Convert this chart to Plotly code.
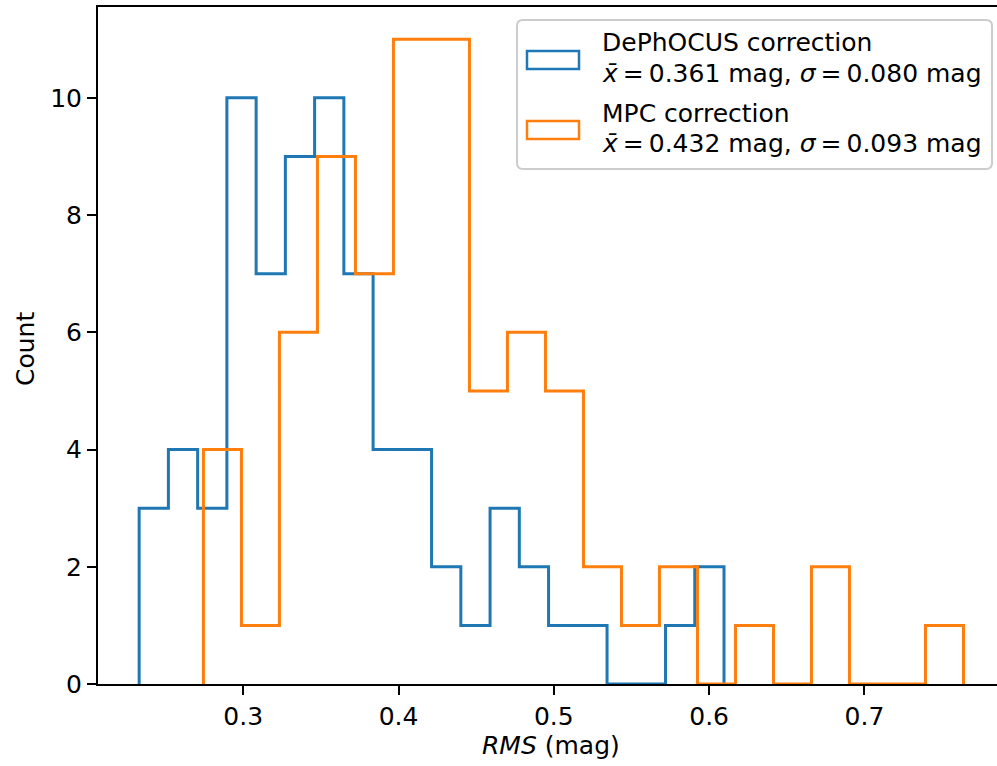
import plotly.graph_objects as go

# ---- data ----
dephocus_counts = [3, 4, 3, 10, 7, 9, 10, 7, 4, 4, 2, 1, 3, 2, 1, 1, 0, 0, 1, 2]
dephocus_start = 0.2330
dephocus_width = 0.01883

mpc_counts = [4, 1, 6, 9, 7, 11, 11, 5, 6, 5, 2, 1, 2, 0, 1, 0, 2, 0, 0, 1]
mpc_start = 0.2744
mpc_width = 0.02447

series_names = ["DePhOCUS correction", "MPC correction"]
TS = "\u2009"
series_stats = [f"<i>x\u0304</i>{TS}={TS}0.361 mag, <i>\u03c3</i>{TS}={TS}0.080 mag",
                f"<i>x\u0304</i>{TS}={TS}0.432 mag, <i>\u03c3</i>{TS}={TS}0.093 mag"]
colors = ["#1f77b4", "#ff7f0e"]

x_ticks = [0.3, 0.4, 0.5, 0.6, 0.7]
y_ticks = [0, 2, 4, 6, 8, 10]

FONT = "DejaVu Sans"
FS = 25

# layout geometry (pixels)
W, H = 997, 766
L, R, T, B = 98, 0, 7, 82
PW, PH = W - L - R, H - T - B


def px_x(px):
    return (px - L) / PW


def px_y(py):
    return (H - B - py) / PH


def step_xy(start, width, counts):
    n = len(counts)
    edges = [start + i * width for i in range(n + 1)]
    xs = [edges[0]] + edges[:n] + [edges[n]]
    ys = [0] + list(counts) + [0]
    return xs, ys


fig = go.Figure()
for counts, start, width, name, col in [
    (dephocus_counts, dephocus_start, dephocus_width, series_names[0], colors[0]),
    (mpc_counts, mpc_start, mpc_width, series_names[1], colors[1]),
]:
    xs, ys = step_xy(start, width, counts)
    fig.add_trace(go.Scatter(x=xs, y=ys, mode="lines", line_shape="hv",
                             line=dict(color=col, width=3), name=name,
                             showlegend=False, hoverinfo="skip"))

# ---- manual legend (matplotlib style) ----
bx0, by0, bx1, by1, r = 517, 20, 992, 169, 6


def rounded_path(x0, y0, x1, y1, r):
    pts = [
        f"M {px_x(x0 + r)} {px_y(y0)}",
        f"L {px_x(x1 - r)} {px_y(y0)}",
        f"Q {px_x(x1)} {px_y(y0)} {px_x(x1)} {px_y(y0 + r)}",
        f"L {px_x(x1)} {px_y(y1 - r)}",
        f"Q {px_x(x1)} {px_y(y1)} {px_x(x1 - r)} {px_y(y1)}",
        f"L {px_x(x0 + r)} {px_y(y1)}",
        f"Q {px_x(x0)} {px_y(y1)} {px_x(x0)} {px_y(y1 - r)}",
        f"L {px_x(x0)} {px_y(y0 + r)}",
        f"Q {px_x(x0)} {px_y(y0)} {px_x(x0 + r)} {px_y(y0)}",
        "Z",
    ]
    return " ".join(pts)


shapes = [dict(type="path", xref="paper", yref="paper",
               path=rounded_path(bx0, by0, bx1, by1, r),
               fillcolor="rgba(255,255,255,0.8)",
               line=dict(color="#cccccc", width=2), layer="above")]

patch_y = [(51, 69), (121, 139)]
text_centers = [(42.5, 73.2), (113.2, 143.8)]
annotations = []
for i in range(2):
    shapes.append(dict(type="rect", xref="paper", yref="paper",
                       x0=px_x(527), x1=px_x(579),
                       y0=px_y(patch_y[i][1]), y1=px_y(patch_y[i][0]),
                       line=dict(color=colors[i], width=2.5),
                       fillcolor="rgba(0,0,0,0)", layer="above"))
    for txt, cy in [(series_names[i], text_centers[i][0]),
                    (series_stats[i], text_centers[i][1])]:
        annotations.append(dict(xref="paper", yref="paper", x=px_x(600), y=px_y(cy),
                                xanchor="left", yanchor="middle", showarrow=False,
                                text=txt, font=dict(family=FONT, size=FS, color="black")))

# axis titles
annotations.append(dict(xref="paper", yref="paper", x=px_x(551), y=px_y(745),
                        xanchor="center", yanchor="middle", showarrow=False,
                        text="<i>RMS</i> (mag)", font=dict(family=FONT, size=FS, color="black")))
annotations.append(dict(xref="paper", yref="paper", x=px_x(25), y=px_y(349),
                        xanchor="center", yanchor="middle", showarrow=False, textangle=-90,
                        text="Count", font=dict(family=FONT, size=FS, color="black")))

fig.update_layout(
    width=W, height=H,
    margin=dict(l=L, r=R, t=T, b=B, pad=0),
    paper_bgcolor="white", plot_bgcolor="white",
    font=dict(family=FONT, size=FS, color="black"),
    shapes=shapes, annotations=annotations,
    showlegend=False,
    xaxis=dict(range=[0.2065, 0.2065 + PW / 1553.0], tickvals=x_ticks,
               ticktext=[f"{v:.1f}" for v in x_ticks],
               ticks="outside", ticklen=9, tickwidth=2, tickcolor="black",
               showline=True, linewidth=2, linecolor="black", mirror=True,
               showgrid=False, zeroline=False,
               tickfont=dict(family=FONT, size=FS, color="black")),
    yaxis=dict(range=[0, 11.55], tickvals=y_ticks,
               ticktext=[str(v) for v in y_ticks],
               ticks="outside", ticklen=9, tickwidth=2, tickcolor="black",
               showline=True, linewidth=2, linecolor="black",
               showgrid=False, zeroline=False,
               tickfont=dict(family=FONT, size=FS, color="black")),
)

fig.write_html("out.html",
               config={"displayModeBar": False},
               post_script="document.body.style.margin='0';document.body.style.overflow='hidden';")
